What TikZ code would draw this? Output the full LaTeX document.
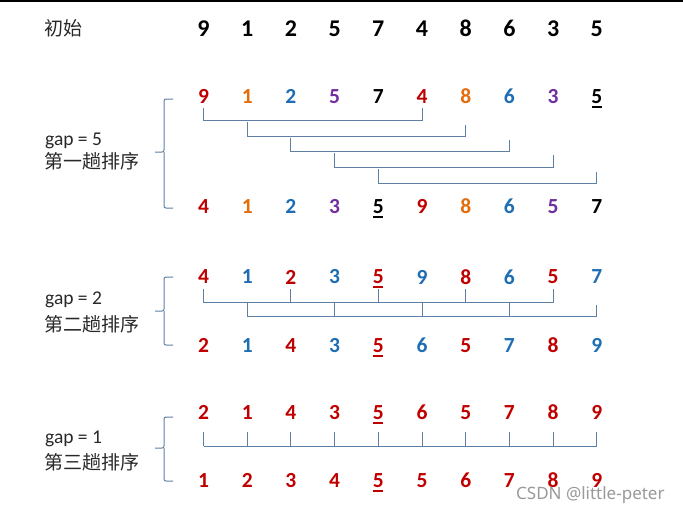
\documentclass[tikz,border=0pt]{standalone}
\usepackage{fontspec}
\setmainfont{Carlito}
\newfontfamily\cjk{Noto Sans CJK SC}
\newfontfamily\wmfont{Noto Sans}
\usetikzlibrary{calc}
\definecolor{cR}{RGB}{192,0,0}
\definecolor{cO}{RGB}{228,108,10}
\definecolor{cB}{RGB}{31,110,180}
\definecolor{cP}{RGB}{112,48,160}
\definecolor{cK}{RGB}{0,0,0}
\definecolor{lineC}{RGB}{95,128,165}
\definecolor{txtC}{RGB}{40,40,40}
\begin{document}
\begin{tikzpicture}[x=1pt,y=-1pt,
  dig/.style={font=\fontsize{21.5}{21.5}\selectfont\bfseries, inner sep=0pt},
  idig/.style={font=\fontsize{24}{24}\selectfont\bfseries, inner sep=0pt, text=black},
  brk/.style={draw=lineC, line width=1pt},
  ul/.style={line width=1.8pt},
  lbl/.style={anchor=base west, inner sep=0pt, text=txtC, font=\fontsize{19.5}{19.5}\selectfont},
  clbl/.style={anchor=west, inner sep=0pt, text=txtC, font=\cjk\fontsize{19}{19}\selectfont}]
\useasboundingbox (0,0) rectangle (683,514);
\fill[white] (0,0) rectangle (683,514);
\draw[line width=1.5pt] (0,0.75) -- (683,0.75);

% initial row
\node[clbl] (init) at (44,28.5) {初始};
\foreach \v [count=\i] in {9,1,2,5,7,4,8,6,3,5}
  \node[idig] (z\i) at ({203.5+43.7*(\i-1)},28.5) {\v};

% gap = 5
\foreach \v/\c [count=\i] in {9/cR,1/cO,2/cB,5/cP,7/cK,4/cR,8/cO,6/cB,3/cP,5/cK}
  \node[dig,text=\c] (a\i) at ({203.5+43.7*(\i-1)},96.5) {\v};
\foreach \v/\c [count=\i] in {4/cR,1/cO,2/cB,3/cP,5/cK,9/cR,8/cO,6/cB,5/cP,7/cK}
  \node[dig,text=\c] (b\i) at ({203.5+43.7*(\i-1)},206.5) {\v};
\draw[ul,cK] ($(a10.south west)+(0.5,3)$) -- ($(a10.south east)+(-0.5,3)$);
\draw[ul,cK] ($(b5.south west)+(0.5,3)$) -- ($(b5.south east)+(-0.5,3)$);
\foreach \l/\r/\y/\t/\u in {1/6/120.5/13/13, 2/7/136/14/11, 3/8/151.5/14/12, 4/9/167/14/12, 5/10/183/14/11}
  \draw[brk] ($(a\l |- 0,\y)+(0,-\t)$) -- (a\l |- 0,\y) -- (a\r |- 0,\y) -- ($(a\r |- 0,\y)+(0,-\u)$);
\draw[brk, rounded corners=2] (173,99) -| (164,152) -- (155,152);
\draw[brk, rounded corners=2] (173,208) -| (164,152);
\node[lbl] (g5) at (45,145.5) {gap = 5};
\node[clbl] (t5) at (44,161) {第一趟排序};

% gap = 2
\foreach \v/\c [count=\i] in {4/cR,1/cB,2/cR,3/cB,5/cR,9/cB,8/cR,6/cB,5/cR,7/cB}
  \node[dig,text=\c] (c\i) at ({203.5+43.7*(\i-1)},277) {\v};
\foreach \v/\c [count=\i] in {2/cR,1/cB,4/cR,3/cB,5/cR,6/cB,5/cR,7/cB,8/cR,9/cB}
  \node[dig,text=\c] (d\i) at ({203.5+43.7*(\i-1)},345.5) {\v};
\draw[ul,cR] ($(c5.south west)+(0.5,3)$) -- ($(c5.south east)+(-0.5,3)$);
\draw[ul,cR] ($(d5.south west)+(0.5,3)$) -- ($(d5.south east)+(-0.5,3)$);
\draw[brk] (c1 |- 0,302.5) -- (c9 |- 0,302.5);
\foreach \k in {1,3,5,7,9} \draw[brk] (c\k |- 0,289) -- (c\k |- 0,302.5);
\draw[brk] (c2 |- 0,316) -- (c10 |- 0,316);
\foreach \k in {2,4,6,8} \draw[brk] (c\k |- 0,302.5) -- (c\k |- 0,316);
\draw[brk] (c10 |- 0,305) -- (c10 |- 0,316);
\draw[brk, rounded corners=2] (173,277) -| (164,311) -- (155,311);
\draw[brk, rounded corners=2] (173,345) -| (164,311);
\node[lbl] (g2) at (45,304.5) {gap = 2};
\node[clbl] (t2) at (44,324) {第二趟排序};

% gap = 1
\foreach \v [count=\i] in {2,1,4,3,5,6,5,7,8,9}
  \node[dig,text=cR] (e\i) at ({203.5+43.7*(\i-1)},412.5) {\v};
\foreach \v [count=\i] in {1,2,3,4,5,5,6,7,8,9}
  \node[dig,text=cR] (f\i) at ({203.5+43.7*(\i-1)},480.5) {\v};
\draw[ul,cR] ($(e5.south west)+(0.5,3)$) -- ($(e5.south east)+(-0.5,3)$);
\draw[ul,cR] ($(f5.south west)+(0.5,3)$) -- ($(f5.south east)+(-0.5,3)$);
\draw[brk] (e1 |- 0,446) -- (e10 |- 0,446);
\foreach \k in {1,...,10} \draw[brk] (e\k |- 0,432) -- (e\k |- 0,446);
\draw[brk, rounded corners=2] (173,417) -| (164,448) -- (155,448);
\draw[brk, rounded corners=2] (173,481) -| (164,448);
\node[lbl] (g1) at (45,443.5) {gap = 1};
\node[clbl] (t1) at (44,462) {第三趟排序};

% watermark
\node[anchor=west, inner sep=0pt, text=black!40, font=\wmfont\fontsize{17}{17}\selectfont] (wm) at (516,495) {CSDN @little-peter};
\end{tikzpicture}
\end{document}
